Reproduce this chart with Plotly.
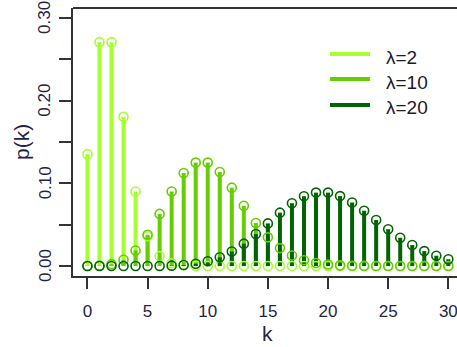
import plotly.graph_objects as go

# Poisson probabilities p(k) for k = 0..30
k = list(range(31))

p_lam2 = [0.1353, 0.2707, 0.2707, 0.1804, 0.0902, 0.0361, 0.0120, 0.0034,
          0.0009, 0.0002, 0.0000, 0.0000, 0.0000, 0.0000, 0.0000, 0.0000,
          0.0000, 0.0000, 0.0000, 0.0000, 0.0000, 0.0000, 0.0000, 0.0000,
          0.0000, 0.0000, 0.0000, 0.0000, 0.0000, 0.0000, 0.0000]

p_lam10 = [0.0000, 0.0005, 0.0023, 0.0076, 0.0189, 0.0378, 0.0631, 0.0901,
           0.1126, 0.1251, 0.1251, 0.1137, 0.0948, 0.0729, 0.0521, 0.0347,
           0.0217, 0.0128, 0.0071, 0.0037, 0.0019, 0.0009, 0.0004, 0.0002,
           0.0001, 0.0000, 0.0000, 0.0000, 0.0000, 0.0000, 0.0000]

p_lam20 = [0.0000, 0.0000, 0.0000, 0.0000, 0.0000, 0.0001, 0.0002, 0.0005,
           0.0013, 0.0029, 0.0058, 0.0106, 0.0176, 0.0271, 0.0387, 0.0516,
           0.0646, 0.0760, 0.0844, 0.0888, 0.0888, 0.0846, 0.0769, 0.0669,
           0.0557, 0.0446, 0.0343, 0.0254, 0.0181, 0.0125, 0.0083]

series_names = ["λ=2", "λ=10", "λ=20"]
series_values = [p_lam2, p_lam10, p_lam20]
series_colors = ["#A6FF2F", "#66CD00", "#006400"]

y_tick_vals = [0.00, 0.05, 0.10, 0.15, 0.20, 0.25, 0.30]
y_label_vals = [0.00, 0.10, 0.20, 0.30]
y_label_text = ["0.00", "0.10", "0.20", "0.30"]
x_tick_vals = [0, 5, 10, 15, 20, 25, 30]

W, H = 457, 347
L, R, T, B = 73, 0, 8, 71

fig = go.Figure()

# vertical stems (type "h")
for vals, col in zip(series_values, series_colors):
    xs, ys = [], []
    for kk, v in zip(k, vals):
        xs += [kk, kk, None]
        ys += [0, v, None]
    fig.add_trace(go.Scatter(x=xs, y=ys, mode="lines",
                             line=dict(color=col, width=4),
                             showlegend=False, hoverinfo="skip"))

# open circles at the tip of each stem
for vals, col in zip(series_values, series_colors):
    fig.add_trace(go.Scatter(x=k, y=vals, mode="markers",
                             marker=dict(symbol="circle-open", size=9,
                                         color=col, line=dict(width=1.6)),
                             showlegend=False))

axis_col = "#333333"
text_col = "#1f2448"
font_fam = "Liberation Sans, Arial"

fig.update_xaxes(range=[-1.2, -1.2 + (W - L - R) / 12.03],
                 tickvals=x_tick_vals, ticks="outside", ticklen=11,
                 tickwidth=1.5, tickcolor=axis_col,
                 showline=True, linewidth=2, linecolor=axis_col, mirror=False,
                 showgrid=False, zeroline=False, ticklabeloverflow="allow",
                 tickfont=dict(family=font_fam, size=17, color=text_col),
                 ticklabelstandoff=8)
fig.update_yaxes(range=[-0.012, 0.312],
                 tickvals=y_tick_vals, ticks="outside", showticklabels=False,
                 ticklen=12, tickwidth=1.5, tickcolor=axis_col,
                 showline=True, linewidth=2, linecolor=axis_col,
                 showgrid=False, zeroline=False)

shapes = []
annotations = []

# top border of the plot box
shapes.append(dict(type="line", xref="paper", yref="paper", x0=0, x1=1, y0=1, y1=1,
                   line=dict(color=axis_col, width=2)))


def px_x(px):
    return (px - L) / (W - L - R)


def px_y(py):
    return 1 - (py - T) / (H - T - B)


# rotated y tick labels (only every other tick is labelled)
for v, txt in zip(y_label_vals, y_label_text):
    annotations.append(dict(text=txt, xref="paper", yref="y",
                            x=px_x(45), y=v, xanchor="center", yanchor="middle",
                            showarrow=False, textangle=-90,
                            font=dict(family=font_fam, size=17, color=text_col)))

# legend: coloured line segments with labels
legend_rows = [54, 79, 105]
for name, col, py in zip(series_names, series_colors, legend_rows):
    shapes.append(dict(type="line", xref="paper", yref="paper",
                       x0=px_x(330), x1=px_x(370), y0=px_y(py), y1=px_y(py),
                       line=dict(color=col, width=4)))
    annotations.append(dict(text=name, xref="paper", yref="paper",
                            x=px_x(384), y=px_y(py + 3), xanchor="left",
                            yanchor="middle", showarrow=False,
                            font=dict(family=font_fam, size=19, color="#1a1a2a")))

# axis titles
annotations.append(dict(text="k", xref="paper", yref="paper",
                        x=px_x(267.5), y=px_y(333), xanchor="center",
                        yanchor="middle", showarrow=False,
                        font=dict(family=font_fam, size=21, color=text_col)))
annotations.append(dict(text="p(k)", xref="paper", yref="paper",
                        x=px_x(21), y=px_y(142), xanchor="center",
                        yanchor="middle", showarrow=False, textangle=-90,
                        font=dict(family=font_fam, size=21, color=text_col)))

fig.update_layout(width=W, height=H,
                  margin=dict(l=L, r=R, t=T, b=B, pad=0),
                  plot_bgcolor="white", paper_bgcolor="white",
                  shapes=shapes, annotations=annotations, showlegend=False)

fig.write_html("out.html")
